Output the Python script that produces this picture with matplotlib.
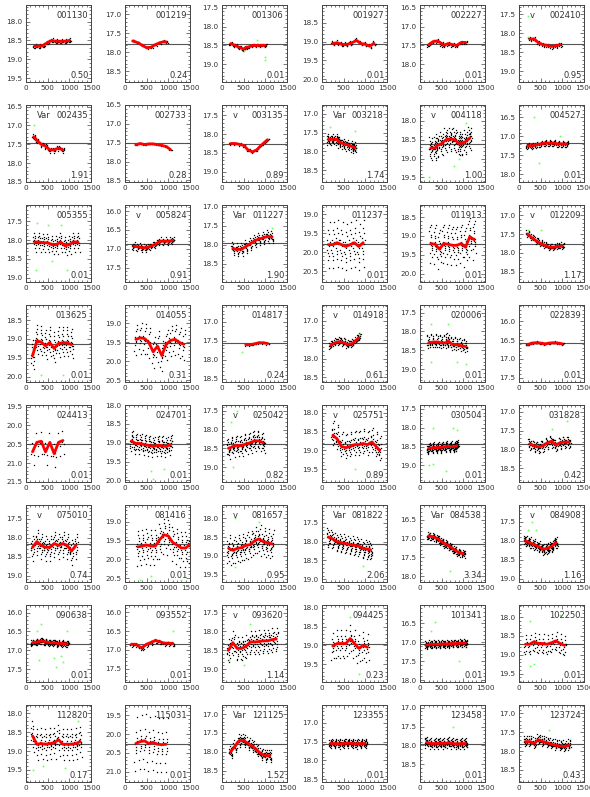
import matplotlib
matplotlib.use("Agg")
import matplotlib.pyplot as plt
import numpy as np
from matplotlib.ticker import MultipleLocator

plt.rcParams['font.family'] = ['DejaVu Sans']

# star ids, flags and the number printed bottom right
ids = ["001130", "001219", "001306", "001927", "002227", "002410",
       "002435", "002733", "003135", "003218", "004118", "004527",
       "005355", "005824", "011227", "011237", "011913", "012209",
       "013625", "014055", "014817", "014918", "020006", "022839",
       "024413", "024701", "025042", "025751", "030504", "031828",
       "075010", "081416", "081657", "081822", "084538", "084908",
       "090638", "093552", "093620", "094425", "101341", "102250",
       "112820", "115031", "121125", "123355", "123458", "123724"]
flags = ["", "", "", "", "", "v",
         "Var", "", "v", "Var", "v", "",
         "", "v", "Var", "", "", "v",
         "", "", "", "v", "", "",
         "", "", "v", "v", "", "",
         "v", "", "v", "Var", "Var", "v",
         "", "", "v", "", "", "",
         "", "", "Var", "", "", ""]
values = ["0.50", "0.24", "0.01", "0.01", "0.01", "0.95",
          "1.91", "0.28", "0.89", "1.74", "1.00", "0.01",
          "0.01", "0.91", "1.90", "0.01", "0.01", "1.17",
          "0.01", "0.31", "0.24", "0.61", "0.01", "0.01",
          "0.01", "0.01", "0.82", "0.89", "0.01", "0.42",
          "0.74", "0.01", "0.95", "2.06", "3.34", "1.16",
          "0.01", "0.01", "1.14", "0.23", "0.01", "0.01",
          "0.17", "0.01", "1.52", "0.01", "0.01", "0.43"]
# median magnitude (the horizontal line)
medians = [18.58, 17.77, 18.45, 19.05, 17.45, 18.27,
           17.48, 17.52, 18.25, 17.79, 18.60, 17.19,
           18.09, 16.86, 17.97, 19.77, 19.20, 17.75,
           19.12, 19.53, 17.57, 17.60, 18.32, 16.59,
           20.48, 19.02, 18.37, 18.82, 18.42, 17.84,
           18.15, 19.58, 18.67, 18.05, 17.13, 18.07,
           16.82, 16.83, 18.32, 18.95, 17.03, 18.70,
           18.80, 20.25, 17.78, 17.55, 17.95, 17.80]
# scatter of the black points (mag) and points per group
spreads = [0.04, 0.02, 0.03, 0.04, 0.03, 0.03,
           0.04, 0.01, 0.02, 0.07, 0.15, 0.04,
           0.12, 0.05, 0.08, 0.30, 0.25, 0.05,
           0.25, 0.30, 0.02, 0.07, 0.12, 0.02,
           0.35, 0.15, 0.15, 0.22, 0.07, 0.08,
           0.20, 0.28, 0.18, 0.12, 0.05, 0.07,
           0.04, 0.03, 0.15, 0.18, 0.05, 0.12,
           0.20, 0.35, 0.08, 0.06, 0.07, 0.08]
counts = [10, 6, 8, 8, 8, 8,
          8, 4, 6, 20, 22, 15,
          12, 15, 14, 12, 14, 16,
          14, 10, 6, 18, 16, 10,
          5, 18, 18, 14, 30, 18,
          16, 12, 18, 18, 22, 28,
          25, 10, 16, 10, 30, 10,
          14, 10, 22, 22, 24, 18]

# red smoothed curves
red_x = [
    [200, 300, 400, 500, 600, 700, 800, 900, 1000],
    [180, 300, 400, 500, 600, 700, 800, 900, 950],
    [200, 300, 400, 500, 550, 600, 700, 800, 900, 1000],
    [250, 350, 450, 550, 650, 800, 900, 1000, 1100, 1200],
    [200, 300, 400, 500, 550, 650, 750, 850, 950, 1050],
    [250, 350, 450, 550, 650, 750, 850, 950],
    [180, 250, 350, 450, 550, 650, 750, 850],
    [250, 350, 450, 550, 650, 750, 850, 950, 1050],
    [200, 300, 400, 500, 600, 700, 800, 900, 1000, 1050],
    [150, 250, 350, 400, 500, 600, 700, 750],
    [250, 350, 400, 500, 600, 700, 800, 900, 950, 1050, 1150],
    [200, 300, 400, 500, 600, 700, 800, 900, 1000, 1100],
    [200, 300, 400, 500, 600, 700, 800, 900, 1000, 1100, 1200],
    [200, 300, 400, 500, 600, 700, 800, 900, 1000, 1100],
    [250, 350, 450, 550, 650, 750, 850, 950, 1050, 1150],
    [150, 250, 350, 450, 550, 650, 750, 850, 950],
    [250, 350, 450, 550, 650, 750, 850, 950, 1050, 1150, 1250],
    [200, 300, 400, 500, 600, 700, 800, 900, 1000],
    [150, 250, 350, 450, 550, 650, 750, 850, 950, 1050],
    [250, 350, 450, 550, 650, 750, 850, 950, 1050, 1150, 1250, 1350],
    [550, 650, 750, 850, 950, 1050],
    [200, 300, 400, 500, 600, 700, 800, 850],
    [200, 300, 400, 500, 600, 650, 750, 850, 950, 1050],
    [200, 300, 400, 500, 600, 700, 800, 900, 1000],
    [150, 250, 350, 450, 550, 650, 750, 850],
    [150, 250, 350, 450, 550, 650, 750, 850, 950, 1050],
    [150, 250, 350, 450, 550, 650, 750, 850, 950],
    [250, 350, 450, 550, 650, 750, 850, 950, 1050, 1150, 1250, 1330],
    [200, 300, 400, 500, 600, 700, 800, 850],
    [250, 350, 450, 550, 650, 750, 850, 950, 1050, 1150],
    [150, 250, 350, 450, 550, 650, 750, 850, 950, 1050, 1150],
    [300, 400, 500, 600, 700, 800, 900, 1000, 1100, 1200, 1300, 1400, 1500],
    [150, 250, 350, 450, 550, 650, 750, 850, 950, 1050, 1150],
    [150, 250, 350, 450, 550, 650, 750, 850, 950, 1050, 1120],
    [200, 300, 400, 500, 600, 700, 800, 900, 1000],
    [150, 250, 350, 450, 550, 650, 750, 850],
    [150, 250, 350, 450, 550, 650, 750, 850, 950],
    [150, 250, 350, 400, 500, 600, 700, 800, 900, 1000, 1100],
    [150, 250, 350, 450, 550, 650, 750, 850, 950, 1050, 1150, 1250],
    [250, 350, 450, 550, 650, 750, 850, 950, 1050],
    [150, 250, 350, 450, 550, 650, 750, 850, 950, 1050],
    [150, 250, 350, 450, 550, 650, 750, 850, 950, 1050],
    [150, 250, 350, 450, 550, 650, 750, 850, 950, 1050, 1150, 1250],
    [250, 350, 450, 550, 650, 750, 850, 950],
    [200, 300, 400, 500, 600, 700, 800, 900, 1000, 1100],
    [200, 300, 400, 500, 600, 700, 800, 900, 1000],
    [150, 250, 350, 450, 550, 650, 750, 850, 950, 1050],
    [150, 250, 350, 450, 550, 650, 750, 850, 950, 1050, 1150],
]
red_y = [
    [18.65, 18.65, 18.63, 18.55, 18.50, 18.52, 18.52, 18.52, 18.50],
    [17.70, 17.75, 17.82, 17.88, 17.87, 17.80, 17.75, 17.72, 17.73],
    [18.45, 18.50, 18.55, 18.60, 18.55, 18.55, 18.50, 18.50, 18.50, 18.50],
    [19.05, 19.03, 19.07, 19.08, 19.05, 18.97, 19.05, 19.07, 19.12, 19.05],
    [17.48, 17.40, 17.38, 17.45, 17.50, 17.45, 17.48, 17.50, 17.42, 17.42],
    [18.15, 18.15, 18.25, 18.30, 18.32, 18.35, 18.33, 18.30],
    [17.30, 17.40, 17.50, 17.55, 17.65, 17.65, 17.60, 17.65],
    [17.55, 17.52, 17.55, 17.53, 17.53, 17.55, 17.57, 17.60, 17.68],
    [18.25, 18.25, 18.27, 18.30, 18.42, 18.47, 18.42, 18.30, 18.20, 18.15],
    [17.68, 17.68, 17.68, 17.75, 17.80, 17.83, 17.87, 17.90],
    [18.72, 18.72, 18.65, 18.60, 18.50, 18.48, 18.50, 18.60, 18.60, 18.55, 18.45],
    [17.25, 17.25, 17.22, 17.20, 17.18, 17.18, 17.18, 17.20, 17.20, 17.20],
    [18.05, 18.05, 18.07, 18.07, 18.12, 18.12, 18.05, 18.15, 18.12, 18.05, 18.05],
    [16.93, 16.95, 16.97, 16.97, 16.93, 16.88, 16.80, 16.80, 16.80, 16.78],
    [18.10, 18.13, 18.12, 18.05, 17.98, 17.90, 17.85, 17.82, 17.78, 17.80],
    [19.80, 19.80, 19.75, 19.80, 19.85, 19.80, 19.75, 19.85, 19.75],
    [19.20, 19.22, 19.35, 19.20, 19.22, 19.25, 19.25, 19.20, 19.30, 19.02, 19.10],
    [17.50, 17.60, 17.68, 17.75, 17.80, 17.85, 17.85, 17.83, 17.82],
    [19.45, 19.05, 19.08, 19.18, 19.10, 19.25, 19.12, 19.10, 19.10, 19.15],
    [19.42, 19.38, 19.40, 19.50, 19.75, 19.60, 19.85, 19.55, 19.45, 19.42, 19.50, 19.55],
    [17.60, 17.60, 17.58, 17.55, 17.55, 17.57],
    [17.65, 17.58, 17.55, 17.58, 17.63, 17.60, 17.50, 17.45],
    [18.30, 18.28, 18.28, 18.30, 18.30, 18.25, 18.35, 18.35, 18.38, 18.40],
    [16.62, 16.58, 16.57, 16.58, 16.60, 16.58, 16.57, 16.58, 16.60],
    [20.70, 20.45, 20.42, 20.70, 20.45, 20.75, 20.45, 20.40],
    [18.95, 19.02, 19.02, 19.05, 19.07, 19.10, 19.07, 19.08, 19.10, 19.05],
    [18.50, 18.45, 18.42, 18.43, 18.38, 18.35, 18.30, 18.30, 18.35],
    [18.60, 18.70, 18.90, 18.93, 18.90, 18.85, 18.85, 18.82, 18.85, 18.78, 18.90, 19.00],
    [18.55, 18.53, 18.53, 18.52, 18.50, 18.50, 18.50, 18.48],
    [17.85, 17.90, 17.93, 17.90, 17.83, 17.78, 17.88, 17.82, 17.80, 17.80],
    [18.25, 18.10, 18.20, 18.25, 18.25, 18.15, 18.20, 18.15, 18.20, 18.35, 18.20],
    [19.67, 19.65, 19.62, 19.65, 19.65, 19.48, 19.35, 19.38, 19.55, 19.62, 19.70, 19.70, 19.60],
    [18.80, 18.85, 18.80, 18.78, 18.72, 18.70, 18.60, 18.55, 18.62, 18.65, 18.68],
    [17.88, 17.93, 18.00, 18.03, 18.05, 18.08, 18.10, 18.12, 18.18, 18.20, 18.22],
    [16.93, 16.95, 17.00, 17.08, 17.15, 17.22, 17.30, 17.37, 17.40],
    [18.00, 18.05, 18.10, 18.15, 18.22, 18.20, 18.15, 18.05],
    [16.80, 16.78, 16.75, 16.78, 16.80, 16.80, 16.82, 16.82, 16.83],
    [16.85, 16.85, 16.93, 16.93, 16.85, 16.80, 16.75, 16.78, 16.82, 16.82, 16.83],
    [18.50, 18.30, 18.45, 18.45, 18.40, 18.28, 18.28, 18.27, 18.25, 18.25, 18.22, 18.20],
    [19.02, 18.95, 18.95, 18.95, 18.82, 18.95, 19.08, 19.00, 19.05],
    [17.07, 17.05, 17.05, 17.05, 17.04, 17.04, 17.03, 17.03, 17.02, 17.02],
    [18.72, 18.72, 18.65, 18.70, 18.70, 18.72, 18.68, 18.63, 18.70, 18.75],
    [18.60, 18.82, 18.80, 18.82, 18.80, 18.78, 18.70, 18.82, 18.82, 18.82, 18.80, 18.75],
    [20.25, 20.20, 20.18, 20.25, 20.22, 20.27, 20.28, 20.27],
    [18.00, 17.85, 17.70, 17.70, 17.78, 17.85, 17.95, 18.05, 18.10, 18.10],
    [17.55, 17.55, 17.56, 17.55, 17.54, 17.55, 17.56, 17.55, 17.55],
    [17.92, 17.95, 17.95, 17.94, 17.95, 17.93, 17.95, 17.96, 17.95, 17.95],
    [17.75, 17.75, 17.80, 17.70, 17.75, 17.78, 17.82, 17.85, 17.87, 17.88, 17.85],
]

# green rejected points (x, mag)
greens = {
    "001306": [(500, 18.65), (800, 18.35), (1000, 18.82), (1000, 18.9)],
    "002410": [(200, 17.55), (200, 18.1)],
    "002435": [(180, 17.0)],
    "003218": [(180, 17.35), (750, 17.45)],
    "004118": [(200, 19.5), (780, 19.2), (900, 19.0), (1050, 18.05), (750, 17.9)],
    "004527": [(350, 16.5), (450, 17.7), (950, 17.0)],
    "005355": [(250, 17.55), (500, 17.6), (800, 17.6), (230, 18.8), (600, 18.55), (950, 18.8)],
    "011227": [(1150, 17.55)],
    "012209": [(200, 17.4), (500, 17.4)],
    "013625": [(950, 18.3), (350, 19.95), (850, 19.95)],
    "014817": [(450, 17.8)],
    "014918": [(850, 17.35)],
    "020006": [(250, 17.8), (650, 17.8), (250, 18.8), (850, 18.8), (1050, 18.85)],
    "024701": [(600, 19.75), (650, 19.95), (900, 19.7)],
    "025042": [(200, 17.8), (250, 19.0), (350, 17.5), (750, 17.6)],
    "025751": [(750, 19.5)],
    "030504": [(300, 18.0), (750, 18.0), (850, 18.05), (200, 19.0), (300, 18.95), (600, 19.15)],
    "031828": [(750, 17.45), (1100, 17.25)],
    "081416": [(350, 20.55), (600, 20.45), (1300, 20.55)],
    "081657": [(300, 18.0), (850, 18.1), (300, 19.3)],
    "081822": [(950, 18.65)],
    "084538": [(700, 17.85)],
    "084908": [(200, 17.7), (300, 17.5), (400, 17.7)],
    "090638": [(350, 16.3), (250, 16.5), (300, 17.25), (650, 17.2), (700, 17.45), (800, 17.15), (850, 17.3), (950, 16.5)],
    "093552": [(1100, 16.5)],
    "093620": [(150, 18.75), (650, 17.8), (500, 18.9)],
    "094425": [(650, 18.25), (850, 19.75)],
    "101341": [(350, 16.45), (900, 17.5), (250, 16.7)],
    "102250": [(250, 18.1), (250, 19.3), (350, 19.25), (950, 17.95)],
    "112820": [(150, 19.5), (900, 19.45), (1200, 18.2), (400, 19.4)],
    "123458": [(750, 17.52)],
    "123724": [(700, 17.45)],
}

# fixed pattern for spreading the black points around the curve
dot_dx = [-30, 10, 25, -15, 35, -5, 20, -35, 0, 15, -25, 5, 30, -10, -40,
          40, -20, 12, -8, 28, -32, 18, -12, 8, -28, 22, -2, 33, -18, 3]
dot_dy = [0.1, -0.3, 0.6, -0.8, 0.2, 1.2, -1.5, 0.4, -0.1, 0.9, -0.6, 1.8,
          -1.1, 0.0, 0.3, -0.4, 2.1, -2.0, 0.7, -0.2, 1.4, -0.9, 0.5, -1.3,
          0.15, -0.05, 1.0, -0.7, 0.25, -1.7]

W, H = 590, 797
fig = plt.figure(figsize=(W / 100, H / 100), dpi=100)
txt = '#333333'
col_left = [26, 125, 222, 322, 420, 519]

for k in range(48):
    r, c = divmod(k, 6)
    top = 5 + 100 * r
    ax = fig.add_axes([col_left[c] / W, 1 - (top + 77) / H, 65 / W, 77 / H])
    med = medians[k]
    n = counts[k]
    xs, ys = [], []
    for x0, y0 in zip(red_x[k], red_y[k]):
        for j in range(n):
            xs.append(x0 + dot_dx[j % 30])
            ys.append(y0 + spreads[k] * dot_dy[(j + k) % 30])
    ax.plot(xs, ys, ls='none', marker='s', ms=0.9, mew=0, color='black')
    g = greens.get(ids[k], [])
    if g:
        ax.plot([p[0] for p in g], [p[1] for p in g], ls='none', marker='s',
                ms=1.2, mew=0, color='#66ff55')
    ax.axhline(med, color='#555555', lw=0.8, zorder=1)
    ax.plot(red_x[k], red_y[k], color='red', lw=2.0, zorder=3,
            solid_capstyle='round', solid_joinstyle='round')
    ax.set_xlim(0, 1500)
    ax.set_ylim(med + 1.02, med - 1.02)
    ax.xaxis.set_major_locator(MultipleLocator(500))
    ax.xaxis.set_minor_locator(MultipleLocator(100))
    ax.yaxis.set_major_locator(MultipleLocator(0.5))
    ax.yaxis.set_minor_locator(MultipleLocator(0.1))
    ax.tick_params(which='both', direction='in', top=True, right=True,
                   colors='#444444', labelcolor=txt, labelsize=5.2, pad=2.5,
                   width=0.5)
    ax.tick_params(which='major', length=3)
    ax.tick_params(which='minor', length=1.5)
    ax.yaxis.set_major_formatter(matplotlib.ticker.FormatStrFormatter('%.1f'))
    for s in ax.spines.values():
        s.set_color('#444444')
        s.set_linewidth(0.7)
    ax.text(0.95, 0.87, ids[k], transform=ax.transAxes, ha='right',
            va='center', fontsize=6, color=txt)
    if flags[k]:
        ax.text(0.17, 0.87, flags[k], transform=ax.transAxes, ha='left',
                va='center', fontsize=6, color=txt)
    ax.text(0.96, 0.08, values[k], transform=ax.transAxes, ha='right',
            va='center', fontsize=6, color=txt)

fig.savefig('out.png', dpi=100)
